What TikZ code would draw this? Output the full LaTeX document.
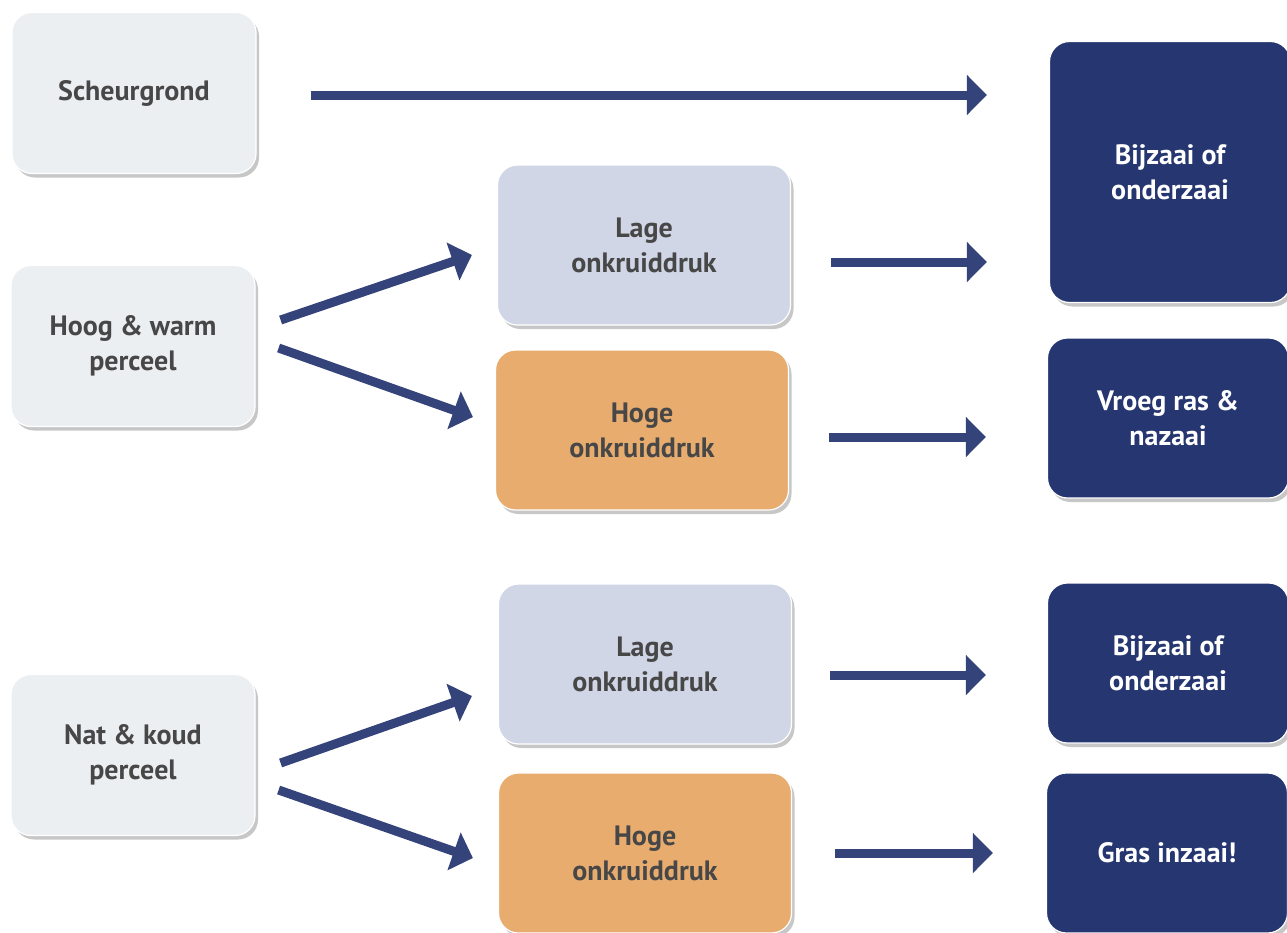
\documentclass[tikz,border=0pt]{standalone}
\usepackage{fontspec}
\setmainfont{PT Sans}
\usepackage{tikz}
\usetikzlibrary{arrows.meta}
\usetikzlibrary{shadows}
\definecolor{lichtgrijs}{HTML}{ECEFF2}
\definecolor{lichtblauw}{HTML}{D0D6E6}
\definecolor{oranje}{HTML}{E8AC6F}
\definecolor{donkerblauw}{HTML}{253670}
\definecolor{pijlblauw}{HTML}{35437B}
\definecolor{tekstgrijs}{HTML}{474747}

\begin{document}
\begin{tikzpicture}[x=1pt, y=-1pt,
    vak/.style={rounded corners=20pt, draw=white, line width=1.2pt, align=center, inner sep=0pt,
        font=\fontsize{28}{35}\selectfont\bfseries, text=tekstgrijs,
        drop shadow={shadow xshift=3pt, shadow yshift=-4pt, fill=black, opacity=0.22}},
    perceel/.style={vak, fill=lichtgrijs, minimum width=244pt, minimum height=161pt},
    druk/.style={vak, minimum width=293pt, minimum height=160pt},
    advies/.style={vak, fill=donkerblauw, text=white, minimum width=241pt, minimum height=160pt},
    pijl/.style={line width=9pt, draw=pijlblauw, -{Triangle[length=20pt, width=39pt]}}]
    \useasboundingbox (0, 0) rectangle (1287, 932);
    \node[perceel] (scheur) at (134, 93) {Scheurgrond};
    \node[perceel] (hoog) at (133, 346) {Hoog \& warm\\perceel};
    \node[perceel] (nat) at (133, 755) {Nat \& koud\\perceel};
    % Onkruiddruk
    \node[druk, fill=lichtblauw] (lage1) at (644, 245) {Lage\\onkruiddruk};
    \node[druk, fill=oranje] (hoge1) at (642, 430) {Hoge\\onkruiddruk};
    \node[druk, fill=lichtblauw] (lage2) at (645, 664) {Lage\\onkruiddruk};
    \node[druk, fill=oranje] (hoge2) at (645, 853) {Hoge\\onkruiddruk};
    % Adviezen
    \node[advies, minimum height=261pt] (bij1) at (1170, 172) {Bijzaai of\\onderzaai};
    \node[advies] (vroeg) at (1168, 418) {Vroeg ras \&\\nazaai};
    \node[advies] (bij2) at (1168, 663) {Bijzaai of\\onderzaai};
    \node[advies] (gras) at (1167, 853) {Gras inzaai!};
    %
    % Pijlen:
  \draw[pijl, shorten <=54pt, shorten >=62pt] ([yshift=-2pt]scheur.east) -- ([yshift=-2pt]scheur.east -| bij1.west);
  \draw[pijl] ([xshift=25pt, yshift=26pt]hoog.east) -- ([xshift=-25pt, yshift=-10pt]lage1.west);
  \draw[pijl] ([xshift=23pt, yshift=-2pt]hoog.east) -- ([xshift=-22pt, yshift=13pt]hoge1.west);
  \draw[pijl] ([xshift=25pt, yshift=-8pt]nat.east) -- ([xshift=-26pt, yshift=-32pt]lage2.west);
  \draw[pijl] ([xshift=23pt, yshift=-35pt]nat.east) -- ([xshift=-25pt, yshift=-5pt]hoge2.west);
  \draw[pijl, shorten <=40pt, shorten >=62pt] ([yshift=-17pt]lage1.east) -- ([yshift=-17pt]lage1.east -| bij1.west);
  \draw[pijl, shorten <=40pt, shorten >=61pt] ([yshift=-7pt]hoge1.east) -- ([yshift=-7pt]hoge1.east -| vroeg.west);
  \draw[pijl, shorten <=38pt, shorten >=61pt] ([yshift=-11pt]lage2.east) -- ([yshift=-11pt]lage2.east -| bij2.west);
  \draw[pijl, shorten <=43pt, shorten >=53pt] (hoge2.east) -- (hoge2.east -| gras.west);
    \end{tikzpicture}
\end{document}
